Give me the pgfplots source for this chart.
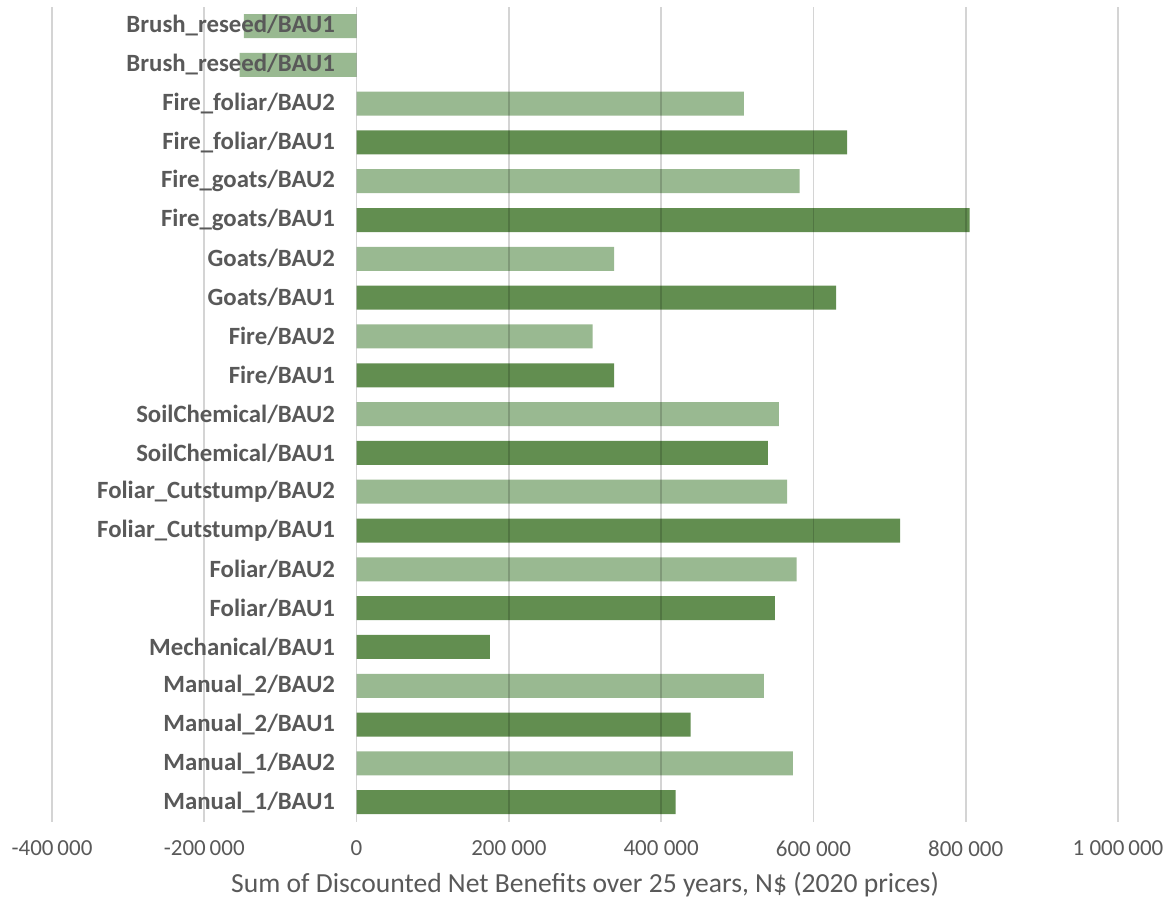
\documentclass[border=0pt]{standalone}
\usepackage{pgfplots}
\pgfplotsset{compat=1.18}
\usepackage{fontspec}
\setmainfont{Carlito}
\definecolor{darkbar}{HTML}{628E50}
\definecolor{lightbar}{HTML}{99B991}
\definecolor{txt}{HTML}{595959}
\begin{document}
\begin{tikzpicture}
\begin{axis}[
  scale only axis,
  width=533pt, height=407.5pt,
  xmin=-400000, xmax=1000000,
  ymin=-0.5, ymax=20.5,
  axis on top,
  axis line style={draw=none},
  scaled x ticks=false,
  xtick={-400000,-200000,0,200000,400000,600000,800000,1000000},
  xticklabels={{-400\,000},{-200\,000},{0},{200 000},{400 000},{600 000},{800 000},{1 000\,000}},
  xticklabel style={font=\fontsize{11.5}{13}\selectfont, text=txt, yshift=-6pt},
  xmajorgrids,
  major grid style={draw=black, opacity=0.17, line width=0.8pt},
  major tick length=0pt,
  ytick={0,...,20},
  yticklabels={Manual\_1/BAU1, Manual\_1/BAU2, Manual\_2/BAU1, Manual\_2/BAU2,
    Mechanical/BAU1, Foliar/BAU1, Foliar/BAU2, Foliar\_Cutstump/BAU1,
    Foliar\_Cutstump/BAU2, SoilChemical/BAU1, SoilChemical/BAU2, Fire/BAU1,
    Fire/BAU2, Goats/BAU1, Goats/BAU2, Fire\_goats/BAU1, Fire\_goats/BAU2,
    Fire\_foliar/BAU1, Fire\_foliar/BAU2, Brush\_reseed/BAU1, Brush\_reseed/BAU1},
  yticklabel style={font=\fontsize{12.4}{14}\selectfont\bfseries, text=txt,
    anchor=east, xshift=145pt},
  xlabel={Sum of Discounted Net Benefits over 25 years, N\$ (2020 prices)},
  xlabel style={font=\fontsize{13.8}{16}\selectfont, text=txt, yshift=-1pt},
  xbar, bar width=12pt, bar shift=0pt,
]
% BAU1 scenarios
\addplot[draw=none, fill=darkbar] coordinates {
  (418900,0) (438600,2) (175100,4) (549400,5) (714000,7) (540100,9)
  (338400,11) (629900,13) (805000,15) (644400,17)
};
% BAU2 scenarios and brush reseeding
\addplot[draw=none, fill=lightbar] coordinates {
  (573000,1) (534900,3) (577800,6) (565500,8) (554600,10) (309900,12)
  (338400,14) (581700,16) (508600,18) (-153600,19) (-148000,20)
};
\end{axis}
% page margins around the plot area
\pgfresetboundingbox
\path ([shift={(-26pt,-44.8pt)}]current axis.south west)
  rectangle ([shift={(28.5pt,3.3pt)}]current axis.north east);
\end{tikzpicture}
\end{document}
